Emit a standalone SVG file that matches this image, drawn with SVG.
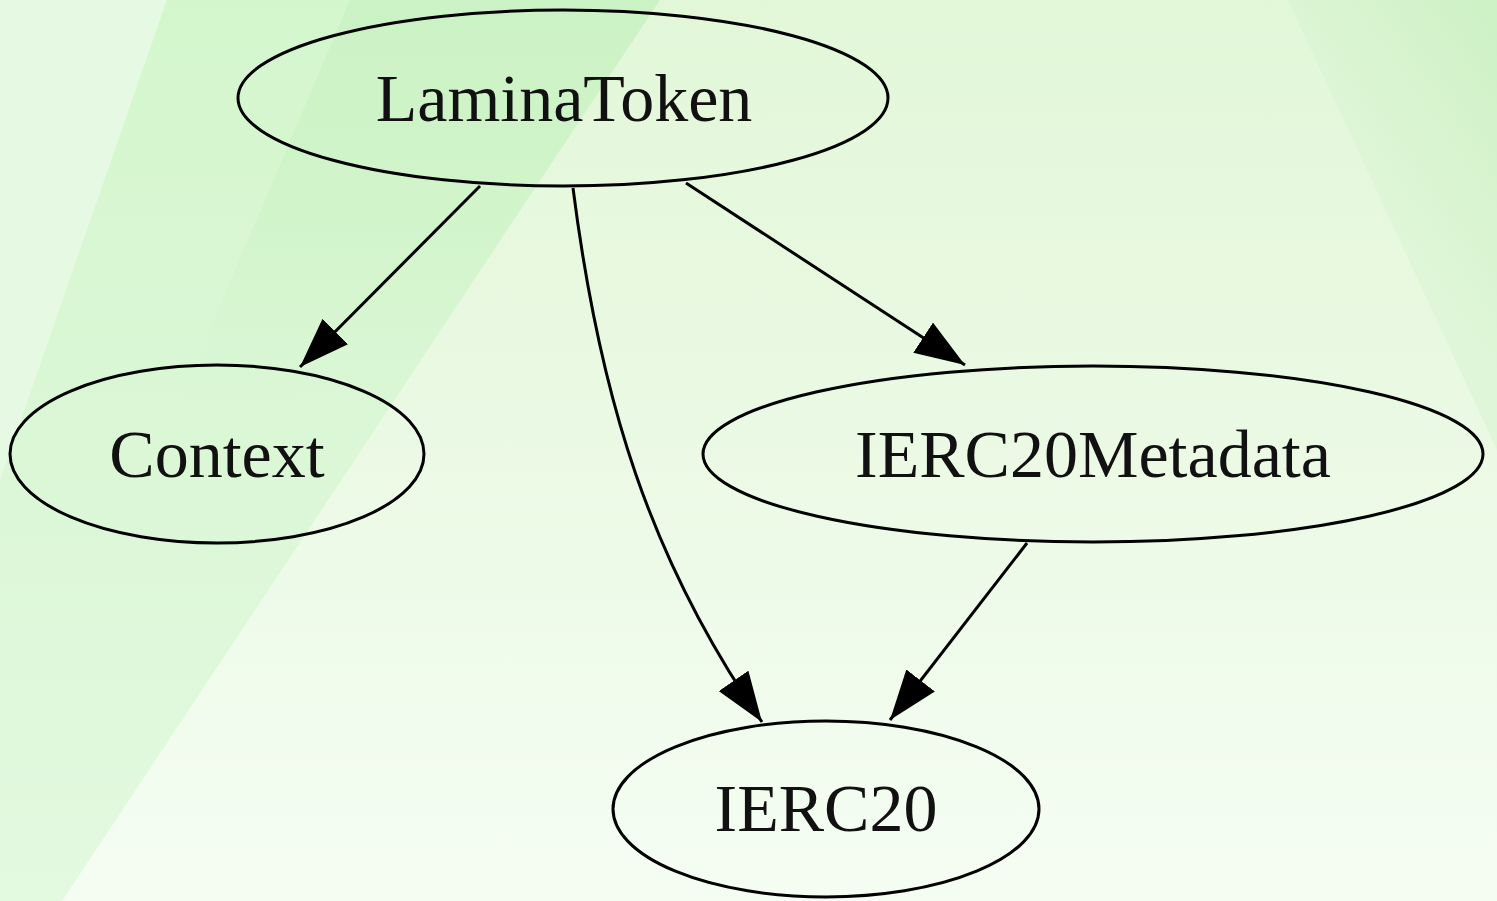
<svg xmlns="http://www.w3.org/2000/svg" width="1497" height="901" viewBox="0 0 1497 901">
  <defs>
    <linearGradient id="bg" x1="0" y1="0" x2="0" y2="1">
      <stop offset="0" stop-color="#e2f7d8"/>
      <stop offset="0.45" stop-color="#eaf9e3"/>
      <stop offset="1" stop-color="#f5fdf3"/>
    </linearGradient>
    <linearGradient id="band" x1="0" y1="0" x2="0" y2="1">
      <stop offset="0" stop-color="#d4f6cd"/>
      <stop offset="0.5" stop-color="#dbf7d6"/>
      <stop offset="1" stop-color="#e3f9e0"/>
    </linearGradient>
    <linearGradient id="subband" x1="0" y1="0" x2="0" y2="1">
      <stop offset="0" stop-color="#c9f1c2" stop-opacity="0.8"/>
      <stop offset="1" stop-color="#c9f1c2" stop-opacity="0"/>
    </linearGradient>
    <linearGradient id="corner" x1="1" y1="0" x2="0.6" y2="0.6">
      <stop offset="0" stop-color="#cdf1c5"/>
      <stop offset="1" stop-color="#e0f6d8"/>
    </linearGradient>
    <marker id="arrow" markerUnits="userSpaceOnUse" viewBox="0 0 50 36" refX="50" refY="18" markerWidth="50" markerHeight="36" orient="auto">
      <path d="M0,0 L50,18 L0,36 Z" fill="#000"/>
    </marker>
  </defs>
  <style>
    .node ellipse { fill: none; stroke: #000; stroke-width: 3; }
    .node text { font-family: "Liberation Serif", "Times New Roman", serif; font-size: 68px; fill: #111; text-anchor: middle; }
    .edge { fill: none; stroke: #000; stroke-width: 3; marker-end: url(#arrow); }
  </style>

  <g id="background">
    <rect x="0" y="0" width="1497" height="901" fill="url(#bg)"/>
    <polygon points="0,0 167,0 0,480" fill="#e6f9e3"/>
    <polygon points="167,0 660,0 62,901 0,901 0,480" fill="url(#band)"/>
    <polygon points="350,0 660,0 400,390 180,400" fill="url(#subband)"/>
    <polygon points="1288,0 1497,0 1497,450" fill="url(#corner)"/>
  </g>

  <g id="connectors">
    <path class="edge" d="M480,186 L300,367"/>
    <path class="edge" d="M686,183 L965,365"/>
    <path class="edge" d="M573,188 C600,400 650,560 762,722"/>
    <path class="edge" d="M1027,543 L890,720"/>
  </g>

  <g id="LaminaToken" class="node">
    <ellipse cx="563" cy="98" rx="325" ry="88"/>
    <text x="564" y="121">LaminaToken</text>
  </g>
  <g id="Context" class="node">
    <ellipse cx="217" cy="454" rx="207" ry="89"/>
    <text x="217" y="477">Context</text>
  </g>
  <g id="IERC20Metadata" class="node">
    <ellipse cx="1093" cy="454" rx="390" ry="88"/>
    <text x="1093" y="477">IERC20Metadata</text>
  </g>
  <g id="IERC20" class="node">
    <ellipse cx="826" cy="809" rx="213" ry="88"/>
    <text x="826" y="831">IERC20</text>
  </g>
</svg>
